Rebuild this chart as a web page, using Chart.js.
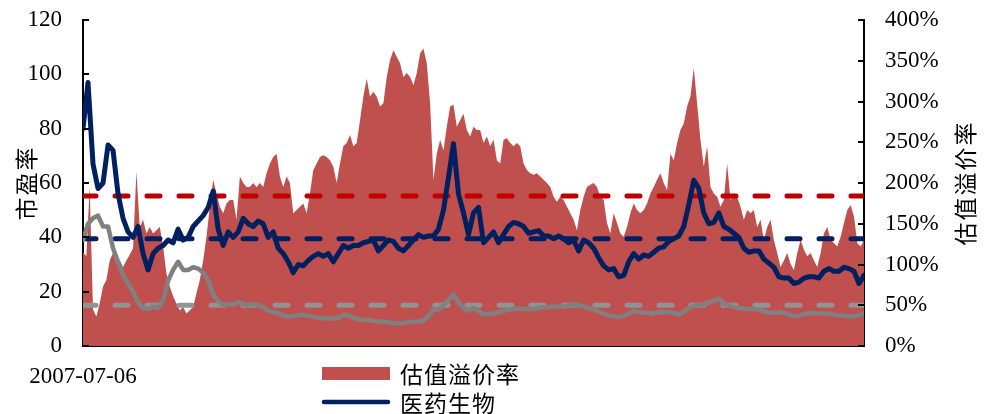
<!DOCTYPE html>
<html>
<head>
<meta charset="utf-8">
<style>
  body { margin: 0; background: #fff; }
  #wrap { position: relative; width: 984px; height: 414px; }
</style>
</head>
<body>
<div id="wrap"><canvas id="chart" width="984" height="414"></canvas></div>
<script src="https://cdn.jsdelivr.net/npm/chart.js@4.4.0/dist/chart.umd.min.js"></script>
<script>
// x runs in periods counted from the first date; only the first date is labelled
var startLabel = '2007-07-06';
var lastPeriod = 468;
var premiumStep = 2;   // premium read every 2 periods
var peStep = 3;        // PE read every 3 periods

// 估值溢价率 (%), right axis
var premium = [
  115, 110, 195, 45, 36, 52, 73, 81, 105, 114, 101, 105, 97, 105, 112, 120, 214, 146, 155, 138,
  146, 138, 142, 146, 122, 89, 73, 61, 52, 44, 48, 40, 44, 48, 65, 81, 105, 134, 171,
  204, 187, 171, 163, 175, 179, 179, 155, 208, 200, 195, 195, 200, 195, 200, 195, 212, 224, 232, 236,
  208, 195, 208, 200, 163, 167, 171, 175, 163, 187, 216, 224, 232, 234, 232, 228, 220, 200, 224, 245,
  249, 259, 245, 249, 277, 306, 328, 306, 312, 306, 294, 298, 330, 351, 363, 355, 347, 330, 335, 330,
  320, 335, 359, 365, 347, 298, 204, 236, 253, 240, 269, 294, 296, 269, 277, 285, 265, 257, 269,
  265, 265, 249, 257, 245, 253, 228, 224, 253, 255, 249, 245, 249, 245, 224, 216, 212, 210, 212, 208,
  204, 200, 195, 183, 177, 183, 179, 171, 163, 155, 142, 167, 183, 195, 198, 200, 195, 183, 179,
  151, 138, 163, 151, 138, 134, 146, 163, 175, 167, 163, 167, 175, 187, 195, 204, 212, 200, 191, 236,
  228, 249, 265, 273, 294, 306, 341, 298, 253, 220, 245, 195, 187, 183, 171, 179, 224, 179, 187,
  183, 171, 155, 167, 163, 167, 146, 155, 130, 146, 155, 130, 114, 97, 105, 114, 101, 93, 114, 130,
  118, 110, 114, 105, 97, 114, 138, 146, 130, 126, 122, 134, 151, 167, 173, 159, 126, 122, 130
];

// 医药生物 市盈率, left axis
var pharmaPE = [
  80, 97, 67, 58, 60, 74, 72, 56, 47, 42, 40, 44, 34, 28, 34, 36, 37, 39, 38, 43, 39, 40, 44, 46, 48, 51, 57,
  43, 37, 42, 40, 42, 47, 45, 44, 46, 45, 40, 42, 36, 34, 31, 27, 30, 29.5, 31.5, 33, 34, 33, 34, 31, 34, 37,
  36, 37, 37, 38, 38.5, 39, 35, 37, 39, 38.5, 36, 35, 37, 39, 41, 40, 40.5, 40.5, 43, 50, 62, 74.5, 56, 49, 41, 49,
  51, 38, 40, 42, 38, 41, 44, 45.5, 45, 44, 41.5, 42, 42.5, 40.5, 40.5, 39.5, 40.5, 39.5, 38, 39, 35, 39, 38, 36, 32.5, 29.5,
  28, 28.5, 25.5, 26, 31, 34, 32, 33.5, 33, 34.5, 36, 36.5, 38.5, 39.5, 40.5, 44, 52, 61, 58, 49, 45, 45.5, 49, 44, 43, 41.5,
  40, 36, 34.5, 35, 35, 32, 30.5, 29, 25.5, 25, 25, 23, 23.5, 25, 25.5, 25.5, 25, 27.5, 28.5, 27.5, 27.5, 29, 28.5, 27.5, 23, 26
];

// market 市盈率, left axis
var marketPE = [
  39, 45, 47, 48, 44, 44, 36, 31, 26, 23, 20, 16, 14, 13.5, 14.5, 14, 17, 24, 28, 31, 28, 28, 29, 28.5, 27, 24, 19,
  16.5, 15, 15.5, 15.2, 16.3, 15.5, 15, 15.5, 15, 14.2, 13, 12.5, 12, 11.3, 10.8, 11, 11.4, 11.4, 11.2, 10.7, 10.4, 10.2, 10.1, 10, 10.3, 11.4,
  11.2, 10.4, 9.8, 9.6, 9.6, 9.2, 9.0, 8.9, 8.7, 8.4, 8.3, 8.5, 8.7, 8.9, 9.0, 9.4, 11, 13.5, 13.4, 15, 17, 18.8, 16, 14, 13, 14,
  12.8, 11.6, 11.8, 12, 12.4, 13, 13.3, 13.6, 13.8, 13.6, 13.6, 13.6, 14, 14.3, 14.3, 14.5, 14.5, 14.5, 14.8, 15.3, 15, 14.5, 14, 13.5, 12.6, 12,
  11.2, 10.9, 10.6, 11, 12, 13, 12.4, 12.2, 12.1, 12, 12.4, 12.4, 12.5, 12.2, 11.6, 12.5, 14, 14.8, 15, 15.3, 16, 16.7, 17.5, 15.5, 14.9, 14.4,
  14, 13.8, 13.6, 13.6, 13.3, 12.9, 12.2, 12.2, 12.5, 12.2, 11.6, 11, 11.2, 11.8, 12, 12.2, 12.1, 12, 11.9, 11.5, 11.3, 11.1, 10.9, 10.9, 11.3, 12
];

// long-run means shown as dashed lines
var premiumMean = 184;
var pharmaMean = 39.5;
var marketMean = 15;

var peTicks = [0, 20, 40, 60, 80, 100, 120];
var premiumTicks = [0, 50, 100, 150, 200, 250, 300, 350, 400];

var FONT = "'Liberation Serif', 'Noto Sans CJK SC', serif";
var CJK = "'Noto Sans CJK SC', sans-serif";

function points(values, step) {
  return values.map(function (v, i) { return { x: i * step, y: v }; });
}
function flat(v) {
  return [{ x: 0, y: v }, { x: lastPeriod, y: v }];
}

// inward tick marks, rotated axis titles and the two-row legend
var decor = {
  id: 'decor',
  afterDraw: function (chart) {
    var ctx = chart.ctx;
    var area = chart.chartArea;
    ctx.save();
    ctx.strokeStyle = '#000';
    ctx.lineWidth = 2;
    var y = chart.scales.y, y1 = chart.scales.y1;
    peTicks.forEach(function (v) {
      var p = Math.round(y.getPixelForValue(v));
      ctx.beginPath(); ctx.moveTo(area.left, p); ctx.lineTo(area.left + 6, p); ctx.stroke();
    });
    premiumTicks.forEach(function (v) {
      var p = Math.round(y1.getPixelForValue(v));
      ctx.beginPath(); ctx.moveTo(area.right, p); ctx.lineTo(area.right - 6, p); ctx.stroke();
    });

    ctx.fillStyle = '#000';
    ctx.font = '23px ' + CJK;
    ctx.letterSpacing = '2px';
    ctx.textAlign = 'center';
    ctx.textBaseline = 'middle';
    var midY = (area.top + area.bottom) / 2;
    [['市盈率', 26], ['估值溢价率', 965]].forEach(function (t) {
      ctx.save();
      ctx.translate(t[1], midY);
      ctx.rotate(-Math.PI / 2);
      ctx.fillText(t[0], 0, 0);
      ctx.restore();
    });

    // legend
    ctx.letterSpacing = '1px';
    ctx.textAlign = 'left';
    ctx.fillStyle = '#C0504D';
    ctx.fillRect(322, 367, 68, 13);
    ctx.strokeStyle = '#002060';
    ctx.lineWidth = 4.5;
    ctx.lineCap = 'round';
    ctx.beginPath(); ctx.moveTo(324, 402); ctx.lineTo(388, 402); ctx.stroke();
    ctx.fillStyle = '#000';
    ctx.fillText('估值溢价率', 400, 374);
    ctx.fillText('医药生物', 400, 403);
    ctx.restore();
  }
};

function fitY(width) {
  return function (s) { s.width = width; s.paddingTop = 0; s.paddingBottom = 0; };
}

new Chart(document.getElementById('chart'), {
  type: 'line',
  data: {
    datasets: [
      {
        label: '估值溢价率', data: points(premium, premiumStep), yAxisID: 'y1',
        borderWidth: 0, backgroundColor: '#C0504D', fill: 'origin', pointRadius: 0, order: 10
      },
      {
        label: '溢价率均值', data: flat(premiumMean), yAxisID: 'y1',
        borderColor: '#C00000', borderWidth: 5, borderDash: [13, 19], borderCapStyle: 'round',
        pointRadius: 0, fill: false, order: 5
      },
      {
        label: '医药均值', data: flat(pharmaMean), yAxisID: 'y',
        borderColor: '#002060', borderWidth: 5, borderDash: [13, 19], borderCapStyle: 'round',
        pointRadius: 0, fill: false, order: 5
      },
      {
        label: '市场均值', data: flat(marketMean), yAxisID: 'y',
        borderColor: '#939393', borderWidth: 5, borderDash: [13, 19], borderCapStyle: 'round',
        pointRadius: 0, fill: false, order: 5
      },
      {
        label: '市场', data: points(marketPE, peStep), yAxisID: 'y',
        borderColor: '#808080', borderWidth: 4.5, borderJoinStyle: 'round', borderCapStyle: 'round',
        pointRadius: 0, fill: false, order: 2
      },
      {
        label: '医药生物', data: points(pharmaPE, peStep), yAxisID: 'y',
        borderColor: '#002060', borderWidth: 5, borderJoinStyle: 'round', borderCapStyle: 'round',
        pointRadius: 0, fill: false, order: 1
      }
    ]
  },
  options: {
    responsive: false,
    animation: false,
    layout: { padding: { top: 20 } },
    plugins: { legend: { display: false }, tooltip: { enabled: false } },
    scales: {
      x: {
        type: 'linear', min: 0, max: lastPeriod,
        grid: { display: false, drawTicks: false },
        border: { display: true, color: '#000', width: 2 },
        afterBuildTicks: function (s) { s.ticks = [{ value: 0 }]; },
        afterFit: function (s) { s.height = 68; s.paddingLeft = 0; s.paddingRight = 0; },
        ticks: {
          maxRotation: 0, padding: 17, color: '#000', font: { family: FONT, size: 23 },
          callback: function (v) { return v === 0 ? startLabel : ''; }
        }
      },
      y: {
        position: 'left', min: 0, max: 120,
        grid: { display: false, drawTicks: false },
        border: { display: true, color: '#000', width: 2 },
        afterBuildTicks: function (s) { s.ticks = peTicks.map(function (v) { return { value: v }; }); },
        afterFit: fitY(83),
        ticks: { padding: 21, color: '#000', font: { family: FONT, size: 23 } }
      },
      y1: {
        position: 'right', min: 0, max: 400,
        grid: { display: false, drawTicks: false },
        border: { display: true, color: '#000', width: 2 },
        afterBuildTicks: function (s) { s.ticks = premiumTicks.map(function (v) { return { value: v }; }); },
        afterFit: fitY(120),
        ticks: {
          padding: 21, color: '#000', font: { family: FONT, size: 23 },
          callback: function (v) { return v + '%'; }
        }
      }
    }
  },
  plugins: [decor]
});
</script>
</body>
</html>
